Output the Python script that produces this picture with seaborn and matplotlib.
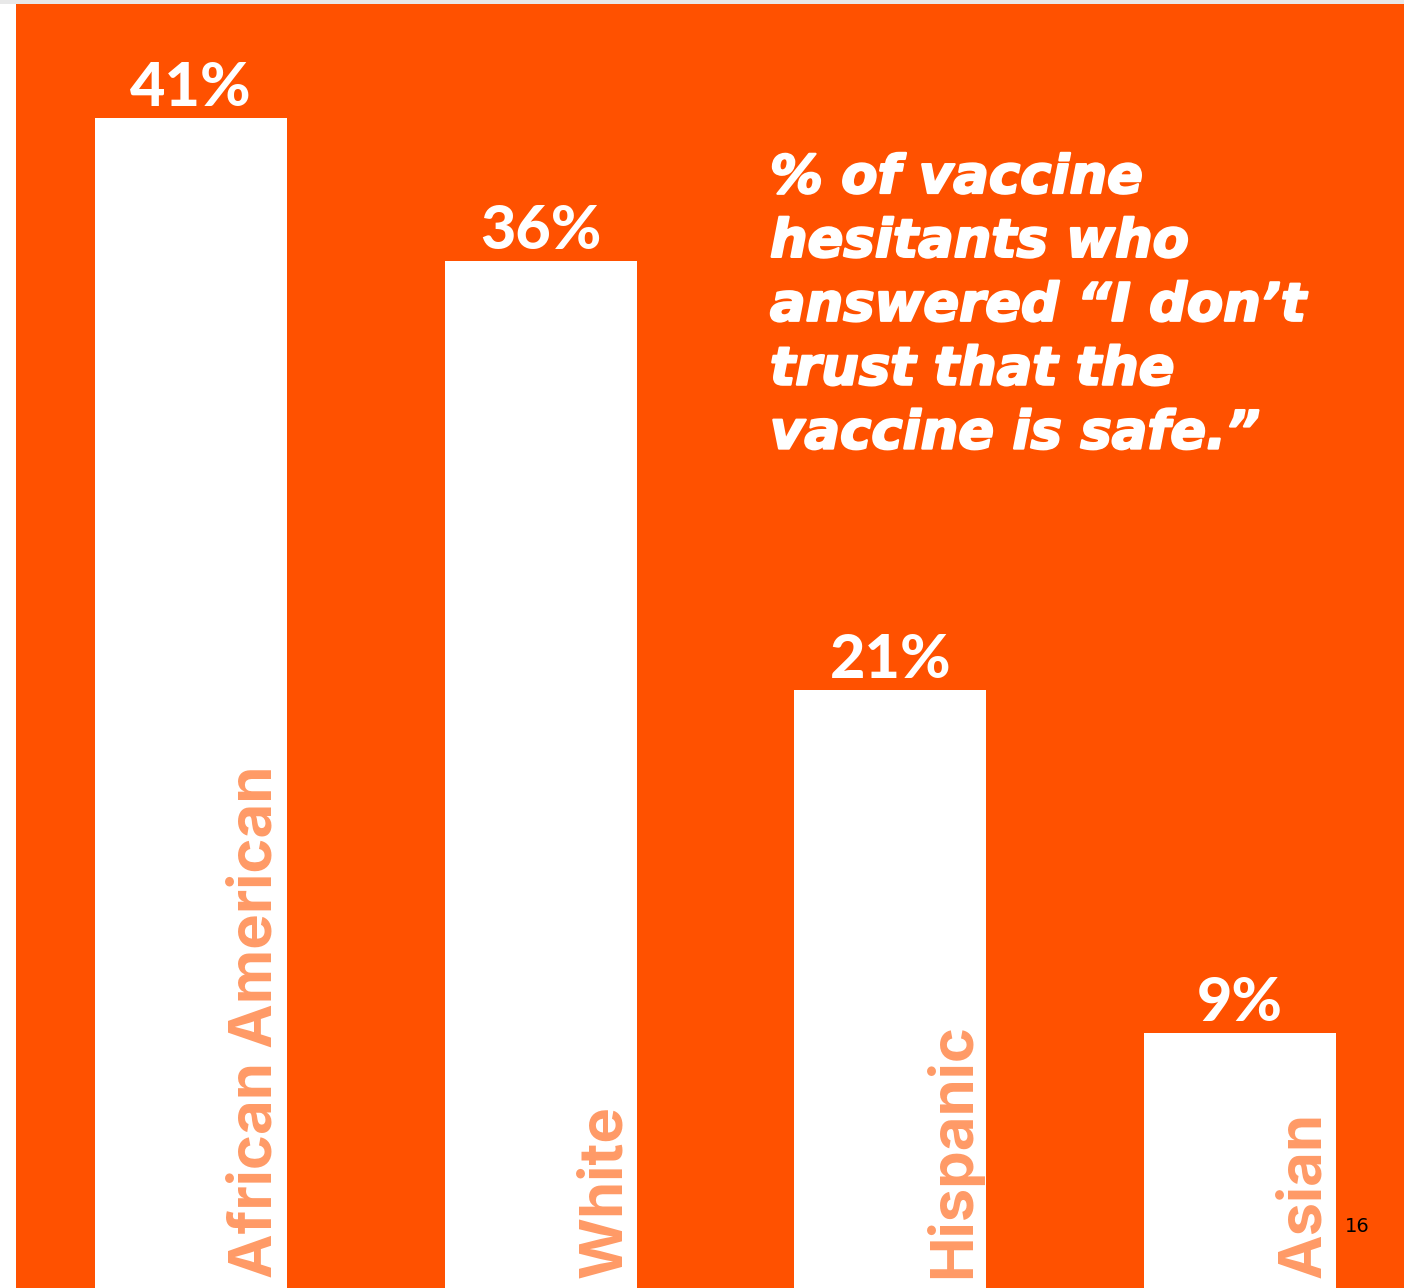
import matplotlib
matplotlib.use("Agg")
import matplotlib.pyplot as plt
import matplotlib.patheffects as pe
import seaborn as sns
import pandas as pd

categories = ["African American", "White", "Hispanic", "Asian"]
values = [41, 36, 21, 9]
value_labels = ["41%", "36%", "21%", "9%"]
title_lines = ["% of vaccine", "hesitants who", "answered \u201cI don\u2019t", "trust that the", "vaccine is safe.\u201d"]
page_number = "16"

ORANGE = "#FF5100"
LABEL = "#FF9A66"

sns.set_theme(style="white")
plt.rcParams["font.family"] = ["DejaVu Sans"]

W, H = 1404, 1288
fig = plt.figure(figsize=(W / 100, H / 100), dpi=100, facecolor="white")
# light gray strip on top
strip = fig.add_axes([0, (H - 4) / H, 1, 4 / H])
strip.set_axis_off()
strip.add_patch(plt.Rectangle((0, 0), 1, 1, transform=strip.transAxes, color="#E8E8E8"))

ax = fig.add_axes([16 / W, 0, (W - 16) / W, (H - 4) / H])
ax.set_facecolor(ORANGE)

df = pd.DataFrame({"cat": categories, "val": values})
sns.barplot(data=df, x="cat", y="val", order=categories, color="white",
            saturation=1, width=0.549, edgecolor="none", linewidth=0, ax=ax)

ax.set_xlim(-0.5, 3.469)
ax.set_ylim(0.09, 45.0)
for s in ax.spines.values():
    s.set_visible(False)
ax.set_xticks([])
ax.set_yticks([])
ax.set_xlabel("")
ax.set_ylabel("")

for i, (v, lab, cat) in enumerate(zip(values, value_labels, categories)):
    ax.text(i, v + 0.42, lab, ha="center", va="baseline", color="white",
            fontsize=44, fontweight=900, family="Lato")
    ax.text(i + 0.264, 0.45, cat, rotation=90,
            ha="right", va="bottom", color=LABEL, fontsize=43,
            fontweight="bold", family="Inter")

fig.text(770 / W, 1 - 152 / H, "\n".join(title_lines), ha="left", va="top",
         color="white", fontsize=38, fontweight="bold", fontstyle="italic",
         family="DejaVu Sans", linespacing=1.29,
         path_effects=[pe.withStroke(linewidth=1.6, foreground="white")])

fig.text(1357 / W, 1 - 1226 / H, page_number, ha="center", va="center",
         color="black", fontsize=14, family="DejaVu Sans")

fig.savefig("out.png", dpi=100, facecolor=fig.get_facecolor())
